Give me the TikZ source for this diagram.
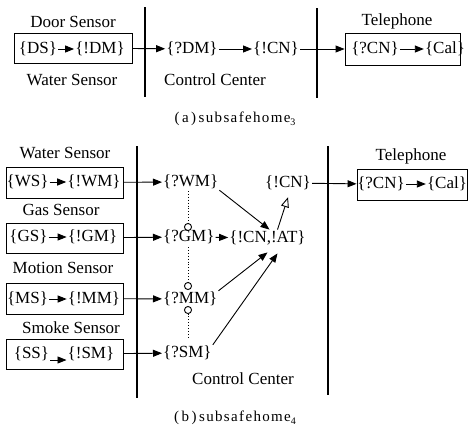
\documentclass[tikz,border=0pt]{standalone}
\usepackage{fontspec}
\setmainfont{Liberation Serif}
\newfontfamily\capfont[LetterSpace=9]{Liberation Serif}
\usetikzlibrary{arrows.meta}

\begin{document}
\begin{tikzpicture}[x=1pt, y=-1pt,
    every node/.style={font=\fontsize{17}{20}\selectfont},
    msg/.style={inner sep=1pt},
    unit/.style={draw, line width=0.9pt, minimum width=117pt, minimum height=31pt, inner sep=0pt},
    flow/.style={-{Triangle[length=9pt,width=7pt]}, line width=0.9pt},
    prio/.style={dotted, line width=0.9pt},
    wall/.style={line width=1.1pt}]
\useasboundingbox (0,0) rectangle (470,432);

% (a) three parts
\node (doorlbl) at (73,22) {Door Sensor};
\node[unit, minimum width=118pt, minimum height=30pt] (doorbox) at (73,48) {};
\node[msg] (ds) at (38,49) {\{DS\}};
\node[msg] (dm) at (100,49) {\{!DM\}};
\draw[flow] (ds) -- (dm);
\node (waterlbl) at (72,80) {Water Sensor};
\draw[wall] (145,7) -- (145,97);
\node[msg] (qdm) at (192,49) {\{?DM\}};
\node[msg] (ecn) at (276,49) {\{!CN\}};
\node (cclbl) at (215,80) {Control Center};
\draw[wall] (317,8) -- (317,98);
\node (tellbl) at (397,21) {Telephone};
\node[unit, minimum width=115pt, minimum height=32pt] (telbox) at (402.5,49) {};
\node[msg] (qcn) at (375,49) {\{?CN\}};
\node[msg] (cal) at (445,49) {\{Cal\}};
\draw[flow] (qcn) -- (cal);
\draw[flow] (doorbox) -- (qdm);
\draw[flow] (qdm) -- (ecn);
\draw[flow] (ecn) -- (telbox);
\node (capa) at (235,119) {\capfont\fontsize{15}{18}\selectfont (\,a\,)\,subsafehome\raisebox{-3pt}{\fontsize{10}{12}\selectfont 3}};

% (b) four sensors
\node (wslbl) at (65,153) {Water Sensor};
\node[unit] (wsbox) at (64.5,182.5) {};
\node[msg] (ws) at (27.5,182) {\{WS\}};
\node[msg] (wm) at (94,182) {\{!WM\}};
\draw[flow] (ws) -- (wm);
\node (gslbl) at (61,210) {Gas Sensor};
\node[unit, minimum height=30pt] (gsbox) at (64.5,238) {};
\node[msg] (gs) at (28.5,237) {\{GS\}};
\node[msg] (gm) at (92.5,237) {\{!GM\}};
\draw[flow] (gs) -- (gm);
\node (mslbl) at (63,268) {Motion Sensor};
\node[unit] (msbox) at (64.5,298.5) {};
\node[msg] (ms) at (27.5,299) {\{MS\}};
\node[msg] (mm) at (94,299) {\{!MM\}};
\draw[flow] (ms) -- (mm);
\node (sslbl) at (71,328) {Smoke Sensor};
\node[unit, minimum height=30pt] (ssbox) at (64.5,354) {};
\node[msg] (ss) at (31.5,354) {\{SS\}};
\node[msg] (sm) at (91,354) {\{!SM\}};
\draw[flow] ([yshift=-6pt]ss.east) -- ([yshift=-6pt]sm.west);
\draw[wall] (137,146) -- (137,398);

% control center
\node[msg, anchor=west] (qwm) at (162,182) {\{?WM\}};
\node[msg, anchor=west] (qgm) at (162,237) {\{?GM\}};
\node[msg, anchor=west] (qmm) at (162,299) {\{?MM\}};
\node[msg, anchor=west] (qsm) at (162,353) {\{?SM\}};
\node[msg] (cnat) at (267.5,238) {\{!CN,!AT\}};
\node[msg] (ecn2) at (288,183) {\{!CN\}};
\node (cclbl2) at (243,379) {Control Center};
\draw[flow] (wsbox) -- (qwm);
\draw[flow] (gsbox) -- (qgm);
\draw[flow] (msbox) -- (qmm);
\draw[flow] (ssbox) -- (qsm);
\draw[prio, -{Circle[open,length=8pt]}] (188,191) -- (188,231);
\draw[prio, -{Circle[open,length=8pt]}] (188,247) -- (188,290);
\draw[prio, {Circle[open,length=8pt]}-] (188,306) -- (188,339);
\draw[flow] (qgm) -- (cnat);
\draw[flow] (qwm.south east) -- ([xshift=2pt]cnat.north);
\draw[flow] (qmm.north east) -- ([yshift=-6pt]cnat.south);
\draw[flow] (qsm.north east) -- ([xshift=10pt,yshift=-7pt]cnat.south);
\draw[-{Triangle[open,length=10pt,width=8pt]}, line width=0.9pt] ([xshift=10pt]cnat.north) -- ([yshift=-6pt]ecn2.south);
\draw[wall] (328,146) -- (328,395);

% telephone
\node (tellbl2) at (411,156) {Telephone};
\node[unit, minimum width=110pt] (telbox2) at (412,184.5) {};
\node[msg] (qcn2) at (381,184) {\{?CN\}};
\node[msg] (cal2) at (447,184) {\{Cal\}};
\draw[flow] (qcn2) -- (cal2);
\draw[flow] (ecn2) -- (telbox2);
\node (capb) at (235,418) {\capfont\fontsize{15}{18}\selectfont (\,b\,)\,subsafehome\raisebox{-3pt}{\fontsize{10}{12}\selectfont 4}};
\end{tikzpicture}
\end{document}
